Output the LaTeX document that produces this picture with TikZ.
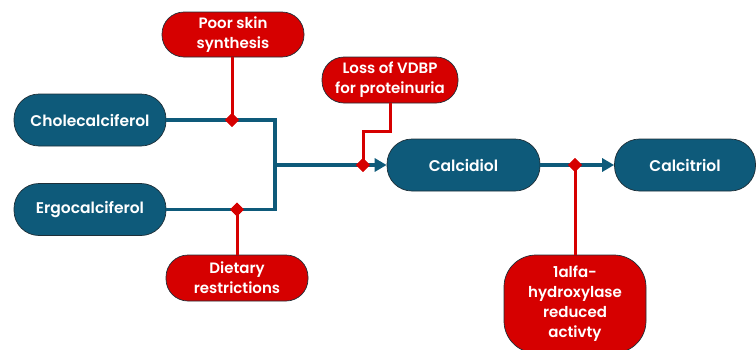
\documentclass[tikz,border=0pt]{standalone}
\usepackage{fontspec}
\setmainfont{Poppins}[BoldFont={Poppins SemiBold}]
\usetikzlibrary{arrows.meta,shapes.geometric}
\definecolor{vblue}{HTML}{0E5A7A}
\definecolor{vred}{HTML}{D60000}
\definecolor{vedge}{HTML}{1E2F38}
\tikzset{
  bluebox/.style={draw=vedge, line width=0.7pt, fill=vblue, text=white, rectangle,
    rounded corners=25pt, minimum height=52pt, inner sep=0pt,
    font=\fontsize{15.5}{20}\selectfont\bfseries, align=center},
  redbox/.style={draw=vedge, line width=0.7pt, fill=vred, text=white, rectangle,
    rounded corners=22pt, inner sep=0pt,
    font=\fontsize{15}{20}\selectfont\bfseries, align=center},
  bline/.style={draw=vblue, line width=3.5pt},
  barrow/.style={bline, -{Triangle[length=12pt,width=13pt]}},
  rline/.style={draw=vred, line width=3pt},
  rdot/.style={diamond, fill=vred, inner sep=0pt, minimum size=14pt}
}
\begin{document}
\begin{tikzpicture}[x=1pt,y=-1pt]
\useasboundingbox (0,0) rectangle (756,349);
% blue nodes
\node[bluebox, minimum width=152pt] (chol) at (90,120) {Cholecalciferol};
\node[bluebox, minimum width=152pt] (ergo) at (90,209.5) {Ergocalciferol};
\node[bluebox, minimum width=153pt] (cdiol) at (463.5,165) {Calcidiol};
\node[bluebox, minimum width=141pt] (ctriol) at (685,165) {Calcitriol};
% red nodes
\node[redbox, minimum width=142pt, minimum height=45pt] (poor) at (233,34.5) {Poor skin\\synthesis};
\node[redbox, minimum width=136pt, minimum height=46pt] (loss) at (390,80) {Loss of VDBP\\for proteinuria};
\node[redbox, minimum width=142pt, minimum height=46pt] (diet) at (237,278) {Dietary\\restrictions};
\node[redbox, minimum width=142pt, minimum height=98pt, rounded corners=32pt] (alfa) at (575,304) {1alfa-\\hydroxylase\\reduced\\activty};
% junction coordinates
\coordinate (jt) at (275,120);
\coordinate (jb) at (275,209.5);
\coordinate (jm) at (275,165);
% blue connectors
\draw[bline] (chol.east) -- (jt) -- (jb) -- (ergo.east);
\draw[barrow] (jm) -- (cdiol.west);
\draw[barrow] (cdiol.east) -- (ctriol.west);
% red diamonds
\node[rdot] (d1) at (232,120) {};
\node[rdot] (d2) at (237,209.5) {};
\node[rdot] (d3) at (363,165) {};
\node[rdot] (d4) at (575,165) {};
\coordinate (lk) at (390,131);
% red connectors
\draw[rline] (poor.south -| d1) -- (d1.center);
\draw[rline] (diet.north -| d2) -- (d2.center);
\draw[rline] (loss.south) -- (lk) -| (d3.center);
\draw[rline] (alfa.north) -- (d4.center);
\node[rdot] at (d1) {};
\node[rdot] at (d2) {};
\node[rdot] at (d3) {};
\node[rdot] at (d4) {};
\end{tikzpicture}
\end{document}
